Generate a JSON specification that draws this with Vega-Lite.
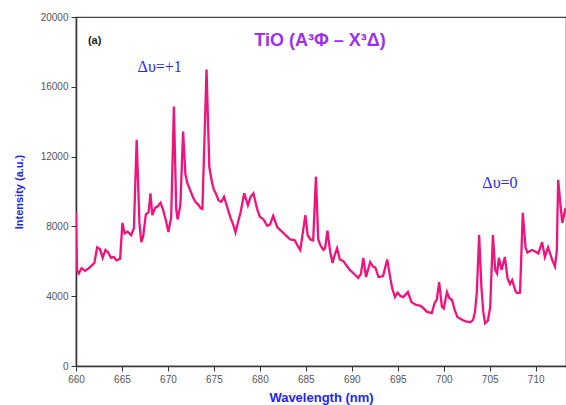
{
  "$schema": "https://vega.github.io/schema/vega-lite/v6.json",
  "width": 490,
  "height": 349,
  "autosize": {"type": "none"},
  "padding": {"left": 76, "top": 17, "right": 0, "bottom": 39},
  "background": "white",
  "config": {
    "view": {"stroke": "#444", "strokeWidth": 1.2},
    "font": "Liberation Sans"
  },
  "datasets": {
    "spectrum": [
      {"wl": 660.0, "I": 8800}, {"wl": 660.1, "I": 5500}, {"wl": 660.3, "I": 5300}, {"wl": 660.6, "I": 5600},
      {"wl": 661.0, "I": 5450}, {"wl": 661.5, "I": 5650}, {"wl": 662.0, "I": 5900}, {"wl": 662.3, "I": 6800},
      {"wl": 662.6, "I": 6700}, {"wl": 662.9, "I": 6200}, {"wl": 663.2, "I": 6650}, {"wl": 663.5, "I": 6500},
      {"wl": 663.8, "I": 6200}, {"wl": 664.1, "I": 6250}, {"wl": 664.4, "I": 6050}, {"wl": 664.8, "I": 6150},
      {"wl": 665.05, "I": 8200}, {"wl": 665.3, "I": 7600}, {"wl": 665.6, "I": 7700}, {"wl": 666.0, "I": 7500},
      {"wl": 666.3, "I": 7900}, {"wl": 666.6, "I": 12970}, {"wl": 666.9, "I": 8200}, {"wl": 667.1, "I": 7100},
      {"wl": 667.3, "I": 7400}, {"wl": 667.6, "I": 8700}, {"wl": 667.9, "I": 8800}, {"wl": 668.1, "I": 9900},
      {"wl": 668.3, "I": 8650}, {"wl": 668.6, "I": 9050}, {"wl": 668.9, "I": 9150}, {"wl": 669.2, "I": 9350},
      {"wl": 669.5, "I": 8900}, {"wl": 669.8, "I": 8300}, {"wl": 670.05, "I": 7680}, {"wl": 670.35, "I": 8500},
      {"wl": 670.65, "I": 14870}, {"wl": 670.9, "I": 9000}, {"wl": 671.05, "I": 8400}, {"wl": 671.35, "I": 9200},
      {"wl": 671.65, "I": 13440}, {"wl": 671.9, "I": 11000}, {"wl": 672.1, "I": 10500}, {"wl": 672.4, "I": 10100},
      {"wl": 672.7, "I": 9700}, {"wl": 673.0, "I": 9400}, {"wl": 673.3, "I": 9250}, {"wl": 673.55, "I": 9050},
      {"wl": 673.75, "I": 9000}, {"wl": 674.2, "I": 16990}, {"wl": 674.5, "I": 11400}, {"wl": 674.8, "I": 10500},
      {"wl": 675.0, "I": 10100}, {"wl": 675.2, "I": 9900}, {"wl": 675.5, "I": 9500}, {"wl": 675.8, "I": 9400},
      {"wl": 676.1, "I": 9700}, {"wl": 676.45, "I": 9100}, {"wl": 676.8, "I": 8500}, {"wl": 677.1, "I": 8100},
      {"wl": 677.35, "I": 7650}, {"wl": 677.6, "I": 8200}, {"wl": 677.9, "I": 8800}, {"wl": 678.3, "I": 9900},
      {"wl": 678.7, "I": 9200}, {"wl": 679.0, "I": 9700}, {"wl": 679.3, "I": 9900}, {"wl": 679.7, "I": 9000},
      {"wl": 680.0, "I": 8550}, {"wl": 680.4, "I": 8400}, {"wl": 680.8, "I": 8030}, {"wl": 681.1, "I": 8100},
      {"wl": 681.45, "I": 8600}, {"wl": 681.9, "I": 7950}, {"wl": 682.2, "I": 7800}, {"wl": 682.5, "I": 7650},
      {"wl": 682.8, "I": 7500}, {"wl": 683.3, "I": 7250}, {"wl": 683.8, "I": 7200}, {"wl": 684.1, "I": 6900},
      {"wl": 684.4, "I": 6650}, {"wl": 684.95, "I": 8650}, {"wl": 685.2, "I": 7500}, {"wl": 685.5, "I": 7250},
      {"wl": 685.8, "I": 7200}, {"wl": 686.1, "I": 10850}, {"wl": 686.35, "I": 7250}, {"wl": 686.6, "I": 6900},
      {"wl": 686.9, "I": 6650}, {"wl": 687.1, "I": 6750}, {"wl": 687.35, "I": 7750}, {"wl": 687.65, "I": 6550},
      {"wl": 687.9, "I": 5900}, {"wl": 688.1, "I": 6300}, {"wl": 688.4, "I": 6750}, {"wl": 688.7, "I": 6100},
      {"wl": 689.1, "I": 6000}, {"wl": 689.5, "I": 5700}, {"wl": 689.8, "I": 5500}, {"wl": 690.2, "I": 5300},
      {"wl": 690.7, "I": 5050}, {"wl": 691.0, "I": 5300}, {"wl": 691.25, "I": 6200}, {"wl": 691.55, "I": 5100},
      {"wl": 692.0, "I": 5950}, {"wl": 692.3, "I": 5700}, {"wl": 692.55, "I": 5650}, {"wl": 692.9, "I": 5100},
      {"wl": 693.4, "I": 5150}, {"wl": 693.85, "I": 6100}, {"wl": 694.2, "I": 5000}, {"wl": 694.4, "I": 4450},
      {"wl": 694.7, "I": 3950}, {"wl": 695.0, "I": 4200}, {"wl": 695.3, "I": 4000}, {"wl": 695.6, "I": 3950},
      {"wl": 696.1, "I": 4240}, {"wl": 696.5, "I": 3650}, {"wl": 697.0, "I": 3500}, {"wl": 697.5, "I": 3450},
      {"wl": 697.8, "I": 3300}, {"wl": 698.2, "I": 3100}, {"wl": 698.7, "I": 3030}, {"wl": 699.0, "I": 3600},
      {"wl": 699.25, "I": 3800}, {"wl": 699.5, "I": 4810}, {"wl": 699.8, "I": 3400}, {"wl": 700.0, "I": 3300},
      {"wl": 700.35, "I": 4240}, {"wl": 700.6, "I": 3900}, {"wl": 700.9, "I": 3780}, {"wl": 701.2, "I": 3200},
      {"wl": 701.5, "I": 2800}, {"wl": 702.0, "I": 2650}, {"wl": 702.4, "I": 2550}, {"wl": 702.9, "I": 2500},
      {"wl": 703.2, "I": 2650}, {"wl": 703.4, "I": 3100}, {"wl": 703.6, "I": 4200}, {"wl": 703.85, "I": 7500},
      {"wl": 704.1, "I": 4500}, {"wl": 704.3, "I": 3100}, {"wl": 704.5, "I": 2450}, {"wl": 704.8, "I": 2600},
      {"wl": 705.05, "I": 3350}, {"wl": 705.35, "I": 7500}, {"wl": 705.6, "I": 5500}, {"wl": 705.8, "I": 5300},
      {"wl": 706.0, "I": 6200}, {"wl": 706.3, "I": 5500}, {"wl": 706.65, "I": 6250}, {"wl": 706.95, "I": 5000},
      {"wl": 707.2, "I": 4700}, {"wl": 707.45, "I": 4920}, {"wl": 707.8, "I": 4300}, {"wl": 707.97, "I": 4180},
      {"wl": 708.3, "I": 4200}, {"wl": 708.6, "I": 8780}, {"wl": 708.9, "I": 6800}, {"wl": 709.1, "I": 6500},
      {"wl": 709.6, "I": 6650}, {"wl": 710.0, "I": 6550}, {"wl": 710.3, "I": 6450}, {"wl": 710.7, "I": 7100},
      {"wl": 711.0, "I": 6250}, {"wl": 711.35, "I": 6800}, {"wl": 711.8, "I": 6080}, {"wl": 712.1, "I": 5700},
      {"wl": 712.3, "I": 6600}, {"wl": 712.45, "I": 10670}, {"wl": 712.7, "I": 9200}, {"wl": 712.9, "I": 8200},
      {"wl": 713.2, "I": 8950}, {"wl": 713.3, "I": 8900}
    ],
    "labels": [
      {"wl": 661.3, "I": 18600, "text": "(a)", "kind": "a"},
      {"wl": 666.7, "I": 17150, "text": "Δυ=+1", "kind": "dv"},
      {"wl": 704.2, "I": 10500, "text": "Δυ=0", "kind": "dv"},
      {"wl": 679.4, "I": 18650, "text": "TiO (A³Φ – X³Δ)", "kind": "title"}
    ]
  },
  "layer": [
    {
      "data": {"name": "spectrum"},
      "mark": {"type": "line", "color": "#f2127c", "strokeWidth": 2.3, "clip": true, "interpolate": "linear"},
      "encoding": {
        "x": {
          "field": "wl", "type": "quantitative",
          "scale": {"domain": [660, 713.3], "nice": false, "zero": false},
          "axis": {
            "title": "Wavelength (nm)",
            "titleColor": "#1f1fff", "titleFontSize": 13, "titleFontWeight": "bold", "titlePadding": 7,
            "values": [660, 662.5, 665, 667.5, 670, 672.5, 675, 677.5, 680, 682.5, 685, 687.5, 690, 692.5, 695, 697.5, 700, 702.5, 705, 707.5, 710, 712.5],
            "labelExpr": "datum.value % 5 == 0 ? format(datum.value, 'd') : ''",
            "labelColor": "#555", "labelFontSize": 10, "labelPadding": 3,
            "tickSize": {"expr": "datum.value % 5 == 0 ? 5 : 3"},
            "tickColor": "#333", "domainColor": "#333", "domainWidth": 1.5,
            "grid": false, "labelFlush": false
          }
        },
        "y": {
          "field": "I", "type": "quantitative",
          "scale": {"domain": [0, 20000], "nice": false},
          "axis": {
            "title": "Intensity (a.u.)",
            "titleColor": "#1f1fff", "titleFontSize": 11, "titleFontWeight": "bold", "titlePadding": 16,
            "values": [0, 2000, 4000, 6000, 8000, 10000, 12000, 14000, 16000, 18000, 20000],
            "labelExpr": "datum.value % 4000 == 0 ? format(datum.value, 'd') : ''",
            "labelColor": "#555", "labelFontSize": 10, "labelPadding": 3,
            "tickSize": {"expr": "datum.value % 4000 == 0 ? 5 : 3"},
            "tickColor": "#333", "domainColor": "#333", "domainWidth": 1.5,
            "grid": false, "labelFlush": false
          }
        }
      }
    },
    {
      "data": {"name": "labels"},
      "transform": [{"filter": "datum.kind == 'a'"}],
      "mark": {"type": "text", "align": "left", "baseline": "middle", "fontSize": 11, "fontWeight": "bold", "color": "#222"},
      "encoding": {
        "x": {"field": "wl", "type": "quantitative"},
        "y": {"field": "I", "type": "quantitative"},
        "text": {"field": "text"}
      }
    },
    {
      "data": {"name": "labels"},
      "transform": [{"filter": "datum.kind == 'dv'"}],
      "mark": {"type": "text", "align": "left", "baseline": "middle", "fontSize": 16, "font": "Liberation Serif", "color": "#2a2aff"},
      "encoding": {
        "x": {"field": "wl", "type": "quantitative"},
        "y": {"field": "I", "type": "quantitative"},
        "text": {"field": "text"}
      }
    },
    {
      "data": {"name": "labels"},
      "transform": [{"filter": "datum.kind == 'title'"}],
      "mark": {"type": "text", "align": "left", "baseline": "middle", "fontSize": 18, "fontWeight": "bold", "color": "#9b30f0"},
      "encoding": {
        "x": {"field": "wl", "type": "quantitative"},
        "y": {"field": "I", "type": "quantitative"},
        "text": {"field": "text"}
      }
    }
  ]
}
